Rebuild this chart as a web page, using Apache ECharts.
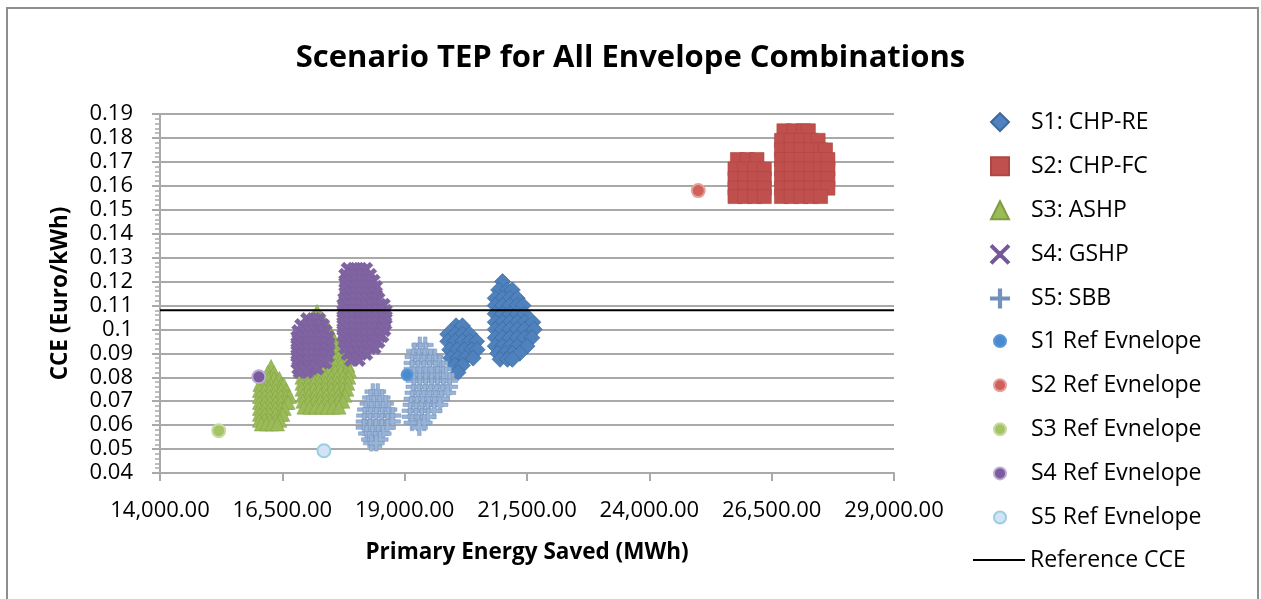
<!DOCTYPE html>
<html>
<head>
<meta charset="utf-8">
<script src="https://cdn.jsdelivr.net/npm/echarts@6/dist/echarts.min.js"></script>
<style>
  html, body { margin: 0; padding: 0; background: #fff; }
  #chart { width: 1261px; height: 599px; }
</style>
</head>
<body>
<div id="chart"></div>
<script>
// Primary energy saved (MWh) vs cost of conserved energy (Euro/kWh)
// Each row: [CCE, [primary energy saved values ...]]

// S1: CHP-RE
const s1RowsA = [
  [0.1015, [20050, 20180]],
  [0.098, [19880, 20030, 20180, 20330]],
  [0.095, [19880, 20030, 20180, 20330, 20470]],
  [0.0915, [19920, 20070, 20220, 20370, 20480]],
  [0.088, [19940, 20090, 20240, 20400]],
  [0.085, [20030, 20180]],
  [0.082, [20090]]
];
const s1RowsB = [
  [0.120, [21000]],
  [0.1165, [20920, 21100, 21200]],
  [0.113, [20850, 21000, 21150, 21300]],
  [0.110, [20850, 21000, 21150, 21300, 21420]],
  [0.1065, [20850, 21000, 21150, 21300, 21450]],
  [0.103, [20850, 21000, 21150, 21300, 21450, 21620]],
  [0.100, [20850, 21000, 21150, 21300, 21450, 21650]],
  [0.0965, [20850, 21000, 21150, 21300, 21450, 21600]],
  [0.093, [20850, 21000, 21150, 21300, 21500]],
  [0.090, [20900, 21050, 21200, 21350]],
  [0.0875, [20950, 21100, 21200]]
];

// S2: CHP-FC
const s2RowsA = [
  [0.171, [25800, 26000, 26200]],
  [0.167, [25750, 25950, 26150, 26350]],
  [0.163, [25750, 25950, 26150, 26350]],
  [0.159, [25750, 25950, 26150, 26350]],
  [0.1555, [25750, 25950, 26150, 26350]]
];
const s2RowsB = [
  [0.183, [26750, 26950, 27150, 27250]],
  [0.179, [26700, 26900, 27100, 27300, 27450]],
  [0.175, [26700, 26900, 27100, 27300, 27500, 27600]],
  [0.171, [26700, 26900, 27100, 27300, 27500, 27650]],
  [0.167, [26700, 26900, 27100, 27300, 27500, 27650]],
  [0.163, [26700, 26900, 27100, 27300, 27500, 27650]],
  [0.159, [26700, 26900, 27100, 27300, 27500, 27650]],
  [0.1555, [26700, 26900, 27100, 27300, 27500]]
];

// S3: ASHP
const s3RowsA = [
  [0.0845, [16270]],
  [0.082, [16200, 16330]],
  [0.0795, [16110, 16220, 16330, 16440]],
  [0.077, [16040, 16150, 16260, 16370, 16480, 16530]],
  [0.0745, [16030, 16140, 16250, 16360, 16470, 16580]],
  [0.072, [16030, 16140, 16250, 16360, 16470, 16580, 16650]],
  [0.0695, [16030, 16140, 16250, 16360, 16470, 16580, 16620]],
  [0.067, [16030, 16140, 16250, 16360, 16470, 16540]],
  [0.0645, [16030, 16140, 16250, 16360, 16470, 16510]],
  [0.062, [16030, 16140, 16250, 16360, 16450]],
  [0.0605, [16070, 16180, 16290, 16400]]
];
const s3RowsB = [
  [0.1075, [17210]],
  [0.105, [17130, 17290]],
  [0.1025, [17070, 17190, 17310, 17370]],
  [0.100, [17000, 17120, 17240, 17360, 17450]],
  [0.0975, [16960, 17080, 17200, 17320, 17440, 17510]],
  [0.095, [16920, 17040, 17160, 17280, 17400, 17520, 17560]],
  [0.0925, [16900, 17020, 17140, 17260, 17380, 17500, 17600]],
  [0.090, [16880, 17000, 17120, 17240, 17360, 17480, 17600, 17680]],
  [0.0875, [16860, 16980, 17100, 17220, 17340, 17460, 17580, 17700, 17780]],
  [0.085, [16860, 16980, 17100, 17220, 17340, 17460, 17580, 17700, 17840]],
  [0.0825, [16860, 16980, 17100, 17220, 17340, 17460, 17580, 17700, 17820, 17880]],
  [0.080, [16900, 17020, 17140, 17260, 17380, 17500, 17620, 17740, 17860]],
  [0.0775, [16900, 17020, 17140, 17260, 17380, 17500, 17620, 17740, 17840]],
  [0.075, [16900, 17020, 17140, 17260, 17380, 17500, 17620, 17740, 17820]],
  [0.0725, [16920, 17040, 17160, 17280, 17400, 17520, 17640, 17780]],
  [0.070, [16920, 17040, 17160, 17280, 17400, 17520, 17640, 17740]],
  [0.0675, [16940, 17060, 17180, 17300, 17420, 17540, 17660]]
];

// S4: GSHP
const s4RowsA = [
  [0.104, [17020, 17140, 17240]],
  [0.1015, [16900, 17020, 17140, 17260, 17320]],
  [0.099, [16840, 16960, 17080, 17200, 17320, 17370]],
  [0.0965, [16820, 16940, 17060, 17180, 17300, 17420]],
  [0.094, [16820, 16940, 17060, 17180, 17300, 17430]],
  [0.0915, [16820, 16940, 17060, 17180, 17300, 17430]],
  [0.089, [16820, 16940, 17060, 17180, 17300, 17410]],
  [0.0865, [16820, 16940, 17060, 17180, 17300, 17370]],
  [0.084, [16840, 16960, 17080, 17200]],
  [0.0825, [16870, 16990]]
];
const s4RowsB = [
  [0.125, [17850, 17970, 18090, 18200]],
  [0.1225, [17800, 17920, 18040, 18160, 18280]],
  [0.120, [17800, 17920, 18040, 18160, 18280, 18350]],
  [0.1175, [17820, 17940, 18060, 18180, 18300, 18400]],
  [0.115, [17800, 17920, 18040, 18160, 18280, 18400]],
  [0.1125, [17780, 17900, 18020, 18140, 18260, 18380, 18450]],
  [0.110, [17760, 17880, 18000, 18120, 18240, 18360, 18480, 18560]],
  [0.1075, [17760, 17880, 18000, 18120, 18240, 18360, 18480, 18600]],
  [0.105, [17760, 17880, 18000, 18120, 18240, 18360, 18480, 18600]],
  [0.1025, [17760, 17880, 18000, 18120, 18240, 18360, 18480, 18590]],
  [0.100, [17760, 17880, 18000, 18120, 18240, 18360, 18480, 18570]],
  [0.0975, [17760, 17880, 18000, 18120, 18240, 18360, 18480, 18530]],
  [0.095, [17780, 17900, 18020, 18140, 18260, 18380, 18450]],
  [0.0925, [17800, 17920, 18040, 18160, 18280, 18370]],
  [0.090, [17850, 17970, 18090, 18200]],
  [0.0875, [17920, 18050]]
];

// S5: SBB
const s5RowsA = [
  [0.074, [18350, 18450]],
  [0.0715, [18300, 18420, 18540]],
  [0.069, [18250, 18370, 18490, 18610]],
  [0.0665, [18200, 18320, 18440, 18560, 18680]],
  [0.064, [18180, 18300, 18420, 18540, 18660, 18760]],
  [0.0615, [18170, 18290, 18410, 18530, 18650, 18750]],
  [0.059, [18170, 18290, 18410, 18530, 18650]],
  [0.0565, [18220, 18340, 18460, 18560]],
  [0.054, [18280, 18400, 18500]],
  [0.0525, [18320, 18420]]
];
const s5RowsB = [
  [0.0935, [19310, 19420]],
  [0.091, [19200, 19320, 19440]],
  [0.0885, [19170, 19290, 19410, 19530, 19620]],
  [0.086, [19150, 19270, 19390, 19510, 19630, 19720]],
  [0.0835, [19150, 19270, 19390, 19510, 19630, 19750, 19790]],
  [0.081, [19190, 19310, 19430, 19550, 19670, 19790, 19850]],
  [0.0785, [19190, 19310, 19430, 19550, 19670, 19790, 19920]],
  [0.076, [19190, 19310, 19430, 19550, 19670, 19790, 19920]],
  [0.0735, [19170, 19290, 19410, 19530, 19650, 19770, 19880]],
  [0.071, [19150, 19270, 19390, 19510, 19630, 19750]],
  [0.0685, [19130, 19250, 19370, 19490, 19610, 19720]],
  [0.066, [19110, 19230, 19350, 19470, 19600]],
  [0.0635, [19110, 19230, 19350, 19480]],
  [0.061, [19150, 19270, 19400]],
  [0.059, [19300]]
];

// Reference envelope of each scenario: [primary energy saved, CCE]
const s1Ref = [19050, 0.081];
const s2Ref = [25000, 0.158];
const s3Ref = [15200, 0.0577];
const s4Ref = [16020, 0.0802];
const s5Ref = [17350, 0.0493];

// Reference CCE
const referenceCCE = 0.108;

// Axes
const xMin = 14000, xMax = 29000, xStep = 2500;
const yMin = 0.04, yMax = 0.19, yStep = 0.01;

const toPoints = rows => rows.flatMap(([y, xs]) => xs.map(x => [x, y]));

const FONT = 'Open Sans';
const GRID_COLOR = '#a9a9a9';

// Thick cross / plus used for dense markers, thin ones for legend keys
const xThick = 'path://M0,2.2 L2.2,0 L5,2.8 L7.8,0 L10,2.2 L7.2,5 L10,7.8 L7.8,10 L5,7.2 L2.2,10 L0,7.8 L2.8,5 Z';
const xThin = 'path://M0,0.8 L0.8,0 L5,4.2 L9.2,0 L10,0.8 L5.8,5 L10,9.2 L9.2,10 L5,5.8 L0.8,10 L0,9.2 L4.2,5 Z';
const plusThick = 'path://M3.9,0 H6.1 V3.9 H10 V6.1 H6.1 V10 H3.9 V6.1 H0 V3.9 H3.9 Z';
const plusThin = 'path://M4.4,0 H5.6 V4.4 H10 V5.6 H5.6 V10 H4.4 V5.6 H0 V4.4 H4.4 Z';
const lineKey = 'path://M0,0 H52 V2 H0 Z';

const chart = echarts.init(document.getElementById('chart'), null, { renderer: 'canvas' });

const refSeries = (name, pt, fill, ring, size) => ({
  name, type: 'scatter', data: [pt], symbol: 'circle', symbolSize: size,
  itemStyle: { color: fill, borderColor: ring, borderWidth: 2, opacity: 1 },
  emphasis: { disabled: true }
});

const legendText = (pad) => ({
  fontFamily: FONT, fontSize: 23, color: '#000', padding: [0, 0, 0, pad]
});

chart.setOption({
  animation: false,
  backgroundColor: '#fff',
  title: {
    text: 'Scenario TEP for All Envelope Combinations',
    left: 'center', top: 38,
    textStyle: { fontFamily: FONT, fontWeight: 'bold', fontSize: 31, color: '#000' }
  },
  graphic: [{
    type: 'rect', silent: true,
    shape: { x: 7, y: 8, width: 1251, height: 620 },
    style: { fill: 'none', stroke: '#8e8e8e', lineWidth: 2 }
  }],
  grid: { left: 160, top: 114, width: 734, height: 359, containLabel: false },
  legend: [
    {
      orient: 'vertical', left: 990, top: 110.6, padding: 0,
      itemWidth: 18, itemHeight: 18, itemGap: 21.1,
      textStyle: legendText(17),
      data: [
        { name: 'S1: CHP-RE', icon: 'diamond' },
        { name: 'S2: CHP-FC', icon: 'rect' },
        { name: 'S3: ASHP', icon: 'triangle' },
        { name: 'S4: GSHP', icon: xThin },
        { name: 'S5: SBB', icon: plusThin }
      ]
    },
    {
      orient: 'vertical', left: 993, top: 329.6, padding: 0,
      itemWidth: 12, itemHeight: 12, itemGap: 21.1,
      textStyle: legendText(20),
      data: [
        { name: 'S1 Ref Evnelope', icon: 'circle' },
        { name: 'S2 Ref Evnelope', icon: 'circle' },
        { name: 'S3 Ref Evnelope', icon: 'circle' },
        { name: 'S4 Ref Evnelope', icon: 'circle' },
        { name: 'S5 Ref Evnelope', icon: 'circle' }
      ]
    },
    {
      orient: 'vertical', left: 973, top: 548.6, padding: 0,
      itemWidth: 52, itemHeight: 2,
      textStyle: legendText(0),
      data: [{ name: 'Reference CCE', icon: lineKey }]
    }
  ],
  xAxis: {
    type: 'value', min: xMin, max: xMax, interval: xStep,
    name: 'Primary Energy Saved (MWh)', nameLocation: 'middle', nameGap: 68,
    nameTextStyle: { fontFamily: FONT, fontWeight: 'bold', fontSize: 22.5, color: '#000' },
    axisLine: { show: true, lineStyle: { color: GRID_COLOR, width: 2 } },
    axisTick: { show: true, length: 8, lineStyle: { color: GRID_COLOR, width: 2 } },
    splitLine: { show: false },
    axisLabel: {
      margin: 27, fontFamily: FONT, fontSize: 22, color: '#000',
      formatter: v => v.toLocaleString('en-US', { minimumFractionDigits: 2, maximumFractionDigits: 2 })
    }
  },
  yAxis: {
    type: 'value', min: yMin, max: yMax, interval: yStep,
    name: 'CCE (Euro/kWh)', nameLocation: 'middle', nameGap: 88, nameRotate: 90,
    nameTextStyle: { fontFamily: FONT, fontWeight: 'bold', fontSize: 22.5, color: '#000' },
    axisLine: { show: true, lineStyle: { color: GRID_COLOR, width: 2 } },
    axisTick: { show: true, length: 8, lineStyle: { color: GRID_COLOR, width: 2 } },
    minorTick: { show: true, splitNumber: 5, length: 5, lineStyle: { color: GRID_COLOR, width: 1.5 } },
    splitLine: { show: true, lineStyle: { color: GRID_COLOR, width: 2 } },
    axisLabel: {
      margin: 27, fontFamily: FONT, fontSize: 22, color: '#000',
      formatter: v => String(parseFloat(v.toFixed(2)))
    }
  },
  series: [
    {
      name: 'S1: CHP-RE', type: 'scatter', symbol: 'diamond', symbolSize: 16,
      data: toPoints(s1RowsA).concat(toPoints(s1RowsB)),
      itemStyle: { color: '#4F81BD', borderColor: '#3a689e', borderWidth: 0.7, opacity: 1 },
      emphasis: { disabled: true }
    },
    {
      name: 'S2: CHP-FC', type: 'scatter', symbol: 'rect', symbolSize: 14,
      data: toPoints(s2RowsA).concat(toPoints(s2RowsB)),
      itemStyle: { color: '#C0504D', borderColor: '#b04541', borderWidth: 0.6, opacity: 1 },
      emphasis: { disabled: true }
    },
    {
      name: 'S3: ASHP', type: 'scatter', symbol: 'triangle', symbolSize: 14,
      data: toPoints(s3RowsA).concat(toPoints(s3RowsB)),
      itemStyle: { color: '#9BBB59', borderColor: '#7e9c40', borderWidth: 0.5, opacity: 1 },
      emphasis: { disabled: true }
    },
    {
      name: 'S4: GSHP', type: 'scatter', symbol: xThick, symbolSize: 15,
      data: toPoints(s4RowsA).concat(toPoints(s4RowsB)),
      itemStyle: { color: '#8064A2', borderColor: '#74589a', borderWidth: 0.4, opacity: 1 },
      emphasis: { disabled: true }
    },
    {
      name: 'S5: SBB', type: 'scatter', symbol: plusThick, symbolSize: 16,
      data: toPoints(s5RowsA).concat(toPoints(s5RowsB)),
      itemStyle: { color: '#9AB4D8', borderColor: '#7390bb', borderWidth: 0.5, opacity: 1 },
      emphasis: { disabled: true }
    },
    refSeries('S1 Ref Evnelope', s1Ref, '#4A8BD0', '#5b97d6', 11),
    refSeries('S2 Ref Evnelope', s2Ref, '#D0605A', '#e6a19d', 13),
    refSeries('S3 Ref Evnelope', s3Ref, '#A5C565', '#c8dba5', 13),
    refSeries('S4 Ref Evnelope', s4Ref, '#7A5B9E', '#bca9d4', 13),
    refSeries('S5 Ref Evnelope', s5Ref, '#D2E4F4', '#9bcde3', 13),
    {
      name: 'Reference CCE', type: 'line', symbol: 'none',
      data: [[xMin, referenceCCE], [xMax, referenceCCE]],
      lineStyle: { color: '#000', width: 2 },
      itemStyle: { color: '#000' },
      emphasis: { disabled: true }
    }
  ]
});
</script>
</body>
</html>
